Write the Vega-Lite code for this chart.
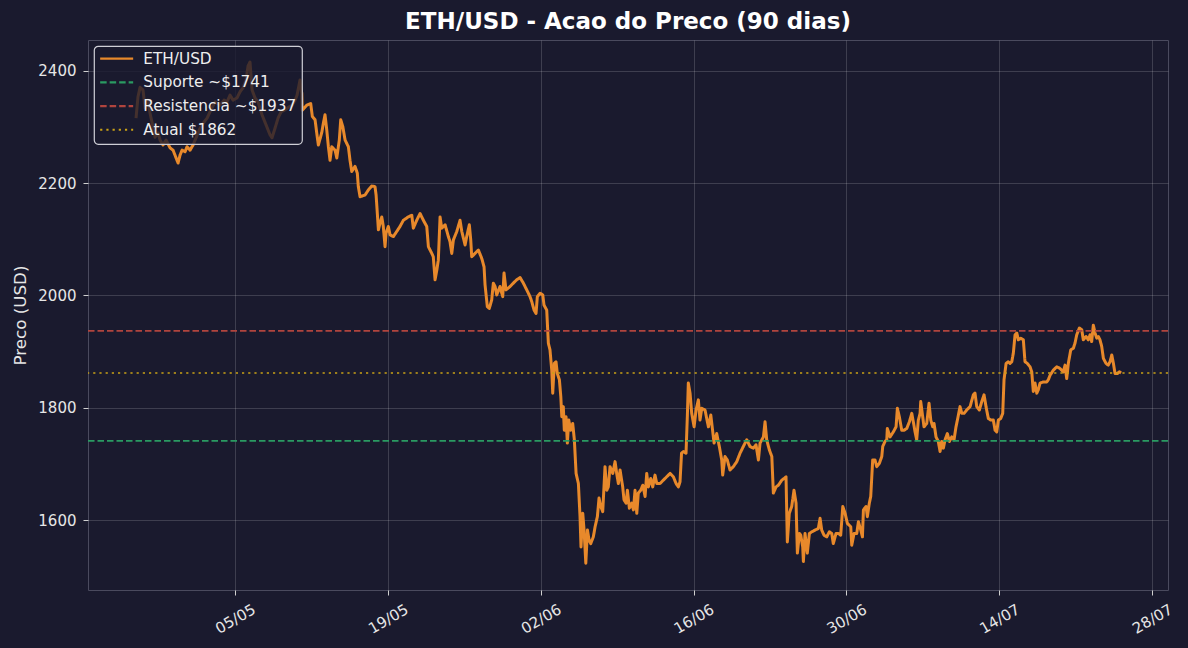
{
"$schema":"https://vega.github.io/schema/vega-lite/v6.json",
"width":1080,"height":550,
"autosize":{"type":"none"},
"padding":{"left":88,"top":40,"right":20,"bottom":58},
"background":"#1a1a2e",
"config":{
 "font":"DejaVu Sans",
 "view":{"stroke":"#4a4a5e","strokeWidth":1,"fill":"#1a1a2e"},
 "axis":{"domain":false,"gridColor":"#ffffff","gridOpacity":0.16,"tickColor":"#d0d0d0","tickSize":5,"labelColor":"#e6e6e6","labelFontSize":15,"labelFont":"DejaVu Sans","titleColor":"#e6e6e6","titleFontSize":16.7,"titleFontWeight":"normal","titleFont":"DejaVu Sans","labelFlush":false,"labelOverlap":false},
 "legend":{"orient":"top-left","offset":6,"padding":5,"fillColor":"rgba(26,26,46,0.8)","strokeColor":"#cfcfd6","strokeWidth":1.2,"cornerRadius":4,"labelFont":"DejaVu Sans","labelFontSize":15.3,"labelColor":"#eeeeee","symbolType":"M-4.125,0H4.125","symbolSize":64,"symbolStrokeWidth":2.2,"symbolOffset":10,"labelOffset":19,"rowPadding":7.7}
},
"title":{"text":"ETH/USD - Acao do Preco (90 dias)","fontSize":23,"font":"DejaVu Sans","fontWeight":"bold","color":"#ffffff","anchor":"middle","frame":"group","offset":6},
"layer":[
 {
  "data":{"values":[
{"d":-9.07,"p":2316},{"d":-8.89,"p":2354},{"d":-8.70,"p":2371},{"d":-8.43,"p":2366},{"d":-8.24,"p":2334},{"d":-7.97,"p":2348},{"d":-7.79,"p":2325},{"d":-7.51,"p":2300},{"d":-7.33,"p":2282},{"d":-7.05,"p":2290},{"d":-6.87,"p":2277},{"d":-6.60,"p":2268},{"d":-6.32,"p":2277},{"d":-5.95,"p":2263},{"d":-5.68,"p":2259},{"d":-5.40,"p":2245},{"d":-5.22,"p":2236},{"d":-5.04,"p":2250},{"d":-4.85,"p":2259},{"d":-4.58,"p":2256},{"d":-4.40,"p":2265},{"d":-4.12,"p":2259},{"d":-3.85,"p":2268},{"d":-3.57,"p":2281},{"d":-3.21,"p":2298},{"d":-2.84,"p":2309},{"d":-2.56,"p":2316},{"d":-2.20,"p":2331},{"d":-1.83,"p":2345},{"d":-1.37,"p":2339},{"d":-1.01,"p":2348},{"d":-0.73,"p":2345},{"d":-0.46,"p":2357},{"d":-0.18,"p":2348},{"d":0.18,"p":2352},{"d":0.46,"p":2363},{"d":0.73,"p":2370},{"d":1.01,"p":2384},{"d":1.19,"p":2409},{"d":1.37,"p":2416},{"d":1.56,"p":2366},{"d":1.83,"p":2352},{"d":2.11,"p":2345},{"d":2.47,"p":2322},{"d":2.84,"p":2304},{"d":3.21,"p":2286},{"d":3.39,"p":2281},{"d":3.66,"p":2298},{"d":3.94,"p":2316},{"d":4.21,"p":2327},{"d":4.58,"p":2331},{"d":4.95,"p":2336},{"d":5.22,"p":2339},{"d":5.50,"p":2348},{"d":5.68,"p":2357},{"d":5.86,"p":2375},{"d":5.95,"p":2384},
{"d":6.11,"p":2360},{"d":6.15,"p":2330},{"d":6.57,"p":2339},{"d":6.93,"p":2342},{"d":7.08,"p":2319},{"d":7.33,"p":2313},{"d":7.48,"p":2290},{"d":7.63,"p":2268},{"d":7.94,"p":2290},{"d":8.09,"p":2307},{"d":8.24,"p":2322},{"d":8.40,"p":2295},{"d":8.55,"p":2265},{"d":8.70,"p":2241},{"d":8.86,"p":2265},{"d":9.16,"p":2259},{"d":9.32,"p":2245},{"d":9.55,"p":2277},{"d":9.68,"p":2313},{"d":9.87,"p":2301},{"d":10.08,"p":2277},{"d":10.38,"p":2265},{"d":10.53,"p":2241},{"d":10.69,"p":2221},{"d":10.99,"p":2230},{"d":11.20,"p":2218},{"d":11.29,"p":2194},{"d":11.45,"p":2176},{"d":11.91,"p":2179},{"d":12.21,"p":2188},{"d":12.52,"p":2195},{"d":12.82,"p":2194},{"d":12.92,"p":2179},{"d":13.03,"p":2147},{"d":13.13,"p":2117},{"d":13.28,"p":2129},{"d":13.44,"p":2140},{"d":13.58,"p":2123},{"d":13.74,"p":2087},{"d":13.83,"p":2111},{"d":14.04,"p":2123},{"d":14.20,"p":2108},{"d":14.50,"p":2105},{"d":14.81,"p":2114},{"d":15.11,"p":2123},{"d":15.42,"p":2134},{"d":15.87,"p":2140},{"d":16.19,"p":2143},{"d":16.33,"p":2120},{"d":16.64,"p":2134},{"d":16.95,"p":2146},{"d":17.25,"p":2134},{"d":17.56,"p":2123},{"d":17.71,"p":2087},{"d":18.02,"p":2075},{"d":18.16,"p":2069},{"d":18.32,"p":2028},{"d":18.48,"p":2045},{"d":18.62,"p":2063},{"d":18.78,"p":2140},{"d":18.93,"p":2120},{"d":19.24,"p":2126},{"d":19.54,"p":2105},{"d":19.69,"p":2096},{"d":19.85,"p":2075},{"d":20.00,"p":2099},{"d":20.31,"p":2114},{"d":20.61,"p":2134},{"d":20.77,"p":2114},{"d":21.07,"p":2090},{"d":21.22,"p":2105},{"d":21.46,"p":2126},{"d":21.59,"p":2099},{"d":21.68,"p":2069},{"d":21.98,"p":2075},{"d":22.29,"p":2081},{"d":22.60,"p":2066},{"d":22.81,"p":2051},{"d":22.90,"p":2019},{"d":23.11,"p":1980},{"d":23.29,"p":1977},{"d":23.51,"p":1992},{"d":23.66,"p":2022},{"d":23.82,"p":2016},{"d":23.97,"p":2001},{"d":24.27,"p":2016},{"d":24.52,"p":1998},{"d":24.64,"p":2040},{"d":24.82,"p":2010},{"d":25.19,"p":2016},{"d":25.49,"p":2022},{"d":25.80,"p":2028},{"d":26.11,"p":2032},{"d":26.41,"p":2022},{"d":26.72,"p":2010},{"d":27.02,"p":1998},{"d":27.18,"p":1989},{"d":27.39,"p":1974},{"d":27.57,"p":1968},{"d":27.69,"p":1998},{"d":27.94,"p":2004},{"d":28.19,"p":2001},{"d":28.30,"p":1983},{"d":28.55,"p":1974},{"d":28.61,"p":1950},{"d":28.70,"p":1915},{"d":28.85,"p":1903},{"d":29.01,"p":1867},{"d":29.10,"p":1826},{"d":29.25,"p":1879},{"d":29.40,"p":1882},{"d":29.52,"p":1861},{"d":29.71,"p":1850},{"d":29.84,"p":1820},{"d":29.93,"p":1784},{"d":30.07,"p":1802},{"d":30.16,"p":1760},{"d":30.32,"p":1784},{"d":30.44,"p":1737},{"d":30.57,"p":1778},{"d":30.75,"p":1760},{"d":30.93,"p":1772},{"d":31.08,"p":1743},{"d":31.24,"p":1683},{"d":31.45,"p":1665},{"d":31.60,"p":1606},{"d":31.69,"p":1552},{"d":31.85,"p":1612},{"d":31.97,"p":1582},{"d":32.13,"p":1523},{"d":32.28,"p":1582},{"d":32.43,"p":1564},{"d":32.58,"p":1558},{"d":32.82,"p":1570},{"d":32.98,"p":1588},{"d":33.19,"p":1606},{"d":33.34,"p":1639},{"d":33.50,"p":1624},{"d":33.68,"p":1615},{"d":33.89,"p":1695},{"d":34.05,"p":1653},{"d":34.19,"p":1659},{"d":34.35,"p":1695},{"d":34.60,"p":1683},{"d":34.81,"p":1704},{"d":34.96,"p":1683},{"d":35.11,"p":1665},{"d":35.27,"p":1689},{"d":35.51,"p":1659},{"d":35.63,"p":1636},{"d":35.82,"p":1630},{"d":35.94,"p":1653},{"d":36.12,"p":1621},{"d":36.34,"p":1630},{"d":36.49,"p":1618},{"d":36.64,"p":1653},{"d":36.80,"p":1612},{"d":36.94,"p":1648},{"d":37.16,"p":1653},{"d":37.35,"p":1662},{"d":37.56,"p":1642},{"d":37.71,"p":1683},{"d":37.86,"p":1659},{"d":38.08,"p":1674},{"d":38.26,"p":1659},{"d":38.47,"p":1680},{"d":38.63,"p":1665},{"d":38.93,"p":1665},{"d":39.23,"p":1671},{"d":39.54,"p":1677},{"d":39.85,"p":1683},{"d":40.15,"p":1677},{"d":40.40,"p":1665},{"d":40.61,"p":1659},{"d":40.76,"p":1668},{"d":40.90,"p":1719},{"d":41.07,"p":1722},{"d":41.31,"p":1719},{"d":41.43,"p":1784},{"d":41.52,"p":1844},{"d":41.68,"p":1826},{"d":41.83,"p":1790},{"d":42.05,"p":1766},{"d":42.23,"p":1796},{"d":42.44,"p":1814},{"d":42.59,"p":1778},{"d":42.75,"p":1799},{"d":43.05,"p":1796},{"d":43.36,"p":1766},{"d":43.58,"p":1787},{"d":43.76,"p":1757},{"d":43.88,"p":1737},{"d":44.12,"p":1754},{"d":44.36,"p":1731},{"d":44.58,"p":1707},{"d":44.67,"p":1680},{"d":44.88,"p":1713},{"d":45.09,"p":1707},{"d":45.34,"p":1689},{"d":45.64,"p":1695},{"d":45.96,"p":1704},{"d":46.26,"p":1719},{"d":46.56,"p":1731},{"d":46.87,"p":1743},{"d":47.17,"p":1731},{"d":47.48,"p":1728},{"d":47.72,"p":1734},{"d":47.94,"p":1707},{"d":48.09,"p":1737},{"d":48.40,"p":1748},{"d":48.55,"p":1775},{"d":48.70,"p":1743},{"d":48.94,"p":1725},{"d":49.17,"p":1713},{"d":49.31,"p":1648},{"d":49.56,"p":1659},{"d":49.77,"p":1662},{"d":50.08,"p":1671},{"d":50.29,"p":1674},{"d":50.47,"p":1677},{"d":50.59,"p":1561},{"d":50.77,"p":1612},{"d":50.99,"p":1624},{"d":51.20,"p":1653},{"d":51.39,"p":1630},{"d":51.51,"p":1541},{"d":51.70,"p":1576},{"d":51.82,"p":1573},{"d":52.00,"p":1552},{"d":52.06,"p":1526},{"d":52.21,"p":1576},{"d":52.42,"p":1541},{"d":52.61,"p":1576},{"d":52.83,"p":1579},{"d":53.13,"p":1582},{"d":53.43,"p":1585},{"d":53.59,"p":1603},{"d":53.74,"p":1582},{"d":53.95,"p":1573},{"d":54.20,"p":1570},{"d":54.44,"p":1579},{"d":54.66,"p":1576},{"d":54.80,"p":1558},{"d":55.05,"p":1576},{"d":55.26,"p":1576},{"d":55.48,"p":1573},{"d":55.67,"p":1624},{"d":55.88,"p":1612},{"d":56.09,"p":1594},{"d":56.40,"p":1588},{"d":56.49,"p":1555},{"d":56.70,"p":1576},{"d":56.95,"p":1576},{"d":57.10,"p":1597},{"d":57.32,"p":1582},{"d":57.47,"p":1570},{"d":57.56,"p":1618},{"d":57.80,"p":1624},{"d":57.92,"p":1606},{"d":58.10,"p":1630},{"d":58.23,"p":1642},{"d":58.41,"p":1707},{"d":58.62,"p":1707},{"d":58.78,"p":1695},{"d":59.02,"p":1701},{"d":59.24,"p":1713},{"d":59.33,"p":1731},{"d":59.54,"p":1740},{"d":59.70,"p":1743},{"d":59.75,"p":1763},{"d":60.00,"p":1748},{"d":60.30,"p":1757},{"d":60.55,"p":1766},{"d":60.67,"p":1799},{"d":60.85,"p":1784},{"d":61.07,"p":1760},{"d":61.28,"p":1760},{"d":61.53,"p":1763},{"d":61.77,"p":1775},{"d":61.99,"p":1790},{"d":62.13,"p":1775},{"d":62.29,"p":1757},{"d":62.44,"p":1743},{"d":62.59,"p":1778},{"d":62.75,"p":1790},{"d":62.81,"p":1811},{"d":62.99,"p":1784},{"d":63.11,"p":1766},{"d":63.36,"p":1772},{"d":63.57,"p":1808},{"d":63.73,"p":1778},{"d":63.91,"p":1766},{"d":64.03,"p":1772},{"d":64.21,"p":1748},{"d":64.42,"p":1740},{"d":64.58,"p":1722},{"d":64.73,"p":1740},{"d":64.88,"p":1728},{"d":65.04,"p":1743},{"d":65.25,"p":1754},{"d":65.43,"p":1740},{"d":65.65,"p":1748},{"d":65.86,"p":1743},{"d":66.04,"p":1766},{"d":66.20,"p":1781},{"d":66.41,"p":1802},{"d":66.57,"p":1790},{"d":66.78,"p":1790},{"d":67.02,"p":1796},{"d":67.33,"p":1802},{"d":67.63,"p":1823},{"d":67.78,"p":1826},{"d":67.94,"p":1802},{"d":68.18,"p":1796},{"d":68.40,"p":1811},{"d":68.61,"p":1823},{"d":68.79,"p":1802},{"d":69.00,"p":1781},{"d":69.22,"p":1778},{"d":69.46,"p":1778},{"d":69.62,"p":1760},{"d":69.77,"p":1757},{"d":69.92,"p":1778},{"d":70.14,"p":1781},{"d":70.32,"p":1790},{"d":70.44,"p":1850},{"d":70.63,"p":1879},{"d":70.83,"p":1882},{"d":70.99,"p":1879},{"d":71.15,"p":1882},{"d":71.29,"p":1897},{"d":71.45,"p":1930},{"d":71.61,"p":1933},{"d":71.75,"p":1921},{"d":71.97,"p":1924},{"d":72.21,"p":1921},{"d":72.36,"p":1882},{"d":72.57,"p":1879},{"d":72.82,"p":1873},{"d":72.98,"p":1864},{"d":73.12,"p":1829},{"d":73.28,"p":1844},{"d":73.44,"p":1826},{"d":73.58,"p":1832},{"d":73.74,"p":1844},{"d":74.04,"p":1846},{"d":74.35,"p":1846},{"d":74.50,"p":1850},{"d":74.66,"p":1858},{"d":74.96,"p":1867},{"d":75.27,"p":1873},{"d":75.57,"p":1870},{"d":75.87,"p":1864},{"d":76.03,"p":1876},{"d":76.18,"p":1852},{"d":76.33,"p":1879},{"d":76.55,"p":1903},{"d":76.79,"p":1906},{"d":76.94,"p":1915},{"d":77.10,"p":1930},{"d":77.34,"p":1942},{"d":77.56,"p":1939},{"d":77.70,"p":1921},{"d":77.95,"p":1927},{"d":78.16,"p":1921},{"d":78.32,"p":1930},{"d":78.47,"p":1918},{"d":78.62,"p":1947},{"d":78.78,"p":1933},{"d":78.93,"p":1924},{"d":79.08,"p":1927},{"d":79.23,"p":1921},{"d":79.39,"p":1909},{"d":79.54,"p":1888},{"d":79.78,"p":1879},{"d":79.99,"p":1876},{"d":80.15,"p":1882},{"d":80.31,"p":1894},{"d":80.46,"p":1879},{"d":80.61,"p":1861},{"d":80.82,"p":1861},{"d":81.00,"p":1864},{"d":81.16,"p":1862}
  ]},
  "mark":{"type":"line","strokeWidth":3,"strokeJoin":"round"},
  "encoding":{
   "x":{"field":"d","type":"quantitative","scale":{"domain":[-13.47,85.46],"nice":false,"zero":false},
        "axis":{"values":[0,14,28,42,56,70,84],"labelExpr":"timeFormat(datetime(2025,4,5+datum.value),'%d/%m')","labelAngle":-30,"labelAlign":"center","labelBaseline":"middle","labelPadding":23.5,"title":null}},
   "y":{"field":"p","type":"quantitative","scale":{"domain":[1475.3,2455.2],"nice":false,"zero":false},
        "axis":{"values":[1600,1800,2000,2200,2400],"format":"d","title":"Preco (USD)","labelPadding":7,"titlePadding":8}},
   "color":{"datum":"ETH/USD","type":"nominal","scale":{"domain":["ETH/USD","Suporte ~$1741","Resistencia ~$1937","Atual $1862"],"range":["#e8892b","#2a9a62","#b0443e","#c9a116"]},"legend":{"title":null}},
   "strokeDash":{"datum":"ETH/USD","type":"nominal","scale":{"domain":["ETH/USD","Suporte ~$1741","Resistencia ~$1937","Atual $1862"],"range":[[1,0],[6.5,3],[6.5,3],[2.2,4]]},"legend":{"title":null}}
  }
 },
 {
  "data":{"values":[
   {"series":"Suporte ~$1741","nivel":1741},
   {"series":"Resistencia ~$1937","nivel":1937},
   {"series":"Atual $1862","nivel":1862}
  ]},
  "mark":{"type":"rule"},
  "encoding":{
   "y":{"field":"nivel","type":"quantitative"},
   "color":{"field":"series","type":"nominal","scale":{"domain":["ETH/USD","Suporte ~$1741","Resistencia ~$1937","Atual $1862"],"range":["#e8892b","#2a9a62","#b0443e","#c9a116"]},"legend":{"title":null}},
   "strokeDash":{"field":"series","type":"nominal","scale":{"domain":["ETH/USD","Suporte ~$1741","Resistencia ~$1937","Atual $1862"],"range":[[1,0],[6.5,3],[6.5,3],[2.2,4]]},"legend":{"title":null}},
   "strokeWidth":{"field":"series","type":"ordinal","scale":{"domain":["Suporte ~$1741","Resistencia ~$1937","Atual $1862"],"range":[1.6,1.6,2.3]},"legend":null}
  }
 }
]
}
